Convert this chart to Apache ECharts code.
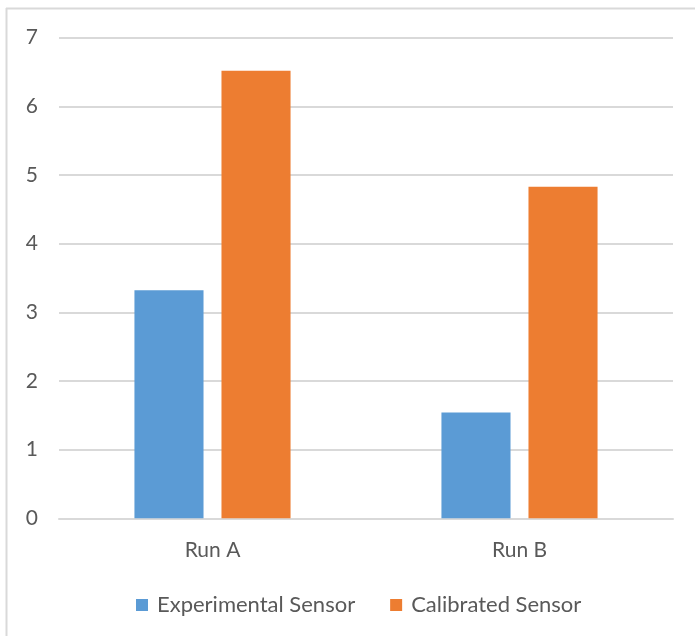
<!DOCTYPE html>
<html>
<head>
<meta charset="utf-8">
<script src="https://cdn.jsdelivr.net/npm/echarts@6/dist/echarts.min.js"></script>
<style>
  html, body { margin: 0; padding: 0; background: #fff; }
  #chart { width: 695px; height: 636px; }
</style>
</head>
<body>
<div id="chart"></div>
<script>
// Sensor readings per run
const categories = ['Run A', 'Run B'];
const experimentalSensor = [3.32, 1.54];
const calibratedSensor = [6.52, 4.83];
const seriesNames = ['Experimental Sensor', 'Calibrated Sensor'];

const FONT = 'Lato, "Open Sans", sans-serif';
const TEXT = '#595959';

const chart = echarts.init(document.getElementById('chart'), null, { renderer: 'canvas' });

chart.setOption({
  animation: false,
  backgroundColor: '#fff',
  textStyle: { fontFamily: FONT },
  graphic: [
    // chart-area frame (top and left edges)
    { type: 'line', shape: { x1: 6, y1: 8.5, x2: 695, y2: 8.5 }, style: { stroke: '#D9D9D9', lineWidth: 2 } },
    { type: 'line', shape: { x1: 6.5, y1: 8, x2: 6.5, y2: 636 }, style: { stroke: '#D9D9D9', lineWidth: 2 } }
  ],
  grid: { left: 59, right: 22, top: 37.7, bottom: 117.7, containLabel: false },
  legend: {
    data: seriesNames,
    top: 589,
    left: 131,
    itemWidth: 12,
    itemHeight: 12,
    itemGap: 35,
    icon: 'rect',
    textStyle: { color: TEXT, fontSize: 22, fontFamily: FONT, padding: [0, 0, 0, 4] }
  },
  xAxis: {
    type: 'category',
    data: categories,
    axisLine: { show: true, lineStyle: { color: '#D9D9D9', width: 2 } },
    axisTick: { show: false },
    axisLabel: { color: TEXT, fontSize: 21, margin: 21, fontFamily: FONT }
  },
  yAxis: {
    type: 'value',
    min: 0,
    max: 7,
    interval: 1,
    axisLine: { show: false },
    axisTick: { show: false },
    axisLabel: { color: TEXT, fontSize: 21, margin: 21, fontFamily: FONT },
    splitLine: { lineStyle: { color: '#D9D9D9', width: 2 } }
  },
  series: [
    {
      name: seriesNames[0],
      type: 'bar',
      data: experimentalSensor,
      barWidth: '22.5%',
      barGap: '26%',
      itemStyle: { color: '#5B9BD5' }
    },
    {
      name: seriesNames[1],
      type: 'bar',
      data: calibratedSensor,
      barWidth: '22.5%',
      barGap: '26%',
      itemStyle: { color: '#ED7D31' }
    }
  ]
});
</script>
</body>
</html>
